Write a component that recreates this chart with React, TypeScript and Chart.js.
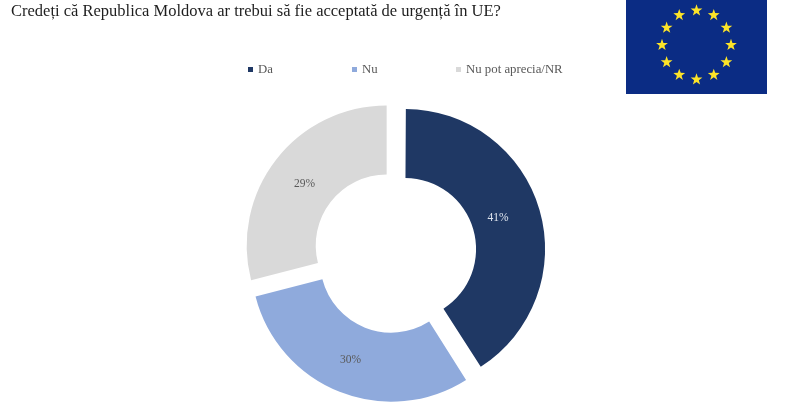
import React, { useEffect, useRef } from "react";
import { Chart, registerables } from "chart.js";

Chart.register(...registerables);

const TITLE = "Credeți că Republica Moldova ar trebui să fie acceptată de urgență în UE?";
const categories = ["Da", "Nu", "Nu pot aprecia/NR"];
const values = [41, 30, 29];
const sliceColors = ["#1f3864", "#8faadc", "#d9d9d9"];
const labelColors = ["#dfe5ee", "#595959", "#595959"];
const legendLefts = [248, 352, 456];
const FONT = '"Liberation Serif", serif';
const SLICE_OFFSET = 42; // Chart.js moves a slice by a quarter of this

const starAngles = [0, 30, 60, 90, 120, 150, 180, 210, 240, 270, 300, 330];

function starPath(cx: number, cy: number, R: number) {
  const pts: string[] = [];
  for (let i = 0; i < 10; i++) {
    const r = i % 2 === 0 ? R : R * 0.4;
    const a = (Math.PI / 5) * i - Math.PI / 2;
    pts.push(`${(cx + r * Math.cos(a)).toFixed(2)},${(cy + r * Math.sin(a)).toFixed(2)}`);
  }
  return pts.join(" ");
}

// Chart.js grows an exploded slice's radii a little; undo it so that all slices keep one radius.
const keepRadii = {
  id: "keepRadii",
  afterDatasetsUpdate(chart: any) {
    chart.getDatasetMeta(0).data.forEach((arc: any) => {
      const fix = 1 - Math.sin(Math.min(Math.PI, arc.circumference || 0));
      const grow = (SLICE_OFFSET / 4) * fix;
      arc.outerRadius -= grow;
      arc.innerRadius -= grow;
    });
  },
};

const sliceLabels = {
  id: "sliceLabels",
  afterDatasetsDraw(chart: any) {
    const { ctx } = chart;
    const meta = chart.getDatasetMeta(0);
    const nudges = [
      [6, -6],
      [-2, 1],
      [1, 3],
    ];
    ctx.save();
    ctx.font = `11.5px ${FONT}`;
    ctx.textAlign = "center";
    ctx.textBaseline = "middle";
    meta.data.forEach((arc: any, i: number) => {
      const mid = (arc.startAngle + arc.endAngle) / 2;
      const inward = i === 0 ? 10 : 0;
      const r = (arc.innerRadius + arc.outerRadius) / 2 + SLICE_OFFSET / 4 - inward;
      ctx.fillStyle = labelColors[i];
      ctx.fillText(
        `${values[i]}%`,
        arc.x + Math.cos(mid) * r + nudges[i][0],
        arc.y + Math.sin(mid) * r + nudges[i][1],
      );
    });
    ctx.restore();
  },
};

export default function App() {
  const ref = useRef<HTMLCanvasElement>(null);
  useEffect(() => {
    document.body.style.margin = "0";
    const chart = new Chart(ref.current!, {
      type: "doughnut",
      data: {
        labels: categories,
        datasets: [
          {
            data: values,
            backgroundColor: sliceColors,
            borderWidth: 0,
            offset: SLICE_OFFSET,
          },
        ],
      },
      options: {
        responsive: false,
        animation: false,
        radius: 140,
        cutout: "50.7%",
        layout: { padding: { left: 11, right: 21, top: 0, bottom: 21 } },
        plugins: {
          legend: { display: false },
          tooltip: { enabled: false },
          title: {
            display: true,
            text: TITLE,
            align: "start",
            color: "#1e1e1e",
            font: { family: FONT, size: 16.5, weight: "normal" },
            padding: { top: 2, bottom: 83 },
          },
        },
      },
      plugins: [keepRadii, sliceLabels],
    });
    return () => chart.destroy();
  }, []);

  return (
    <div style={{ position: "relative", width: 800, height: 420, overflow: "hidden", background: "#fff" }}>
      <canvas ref={ref} width={800} height={420} style={{ display: "block" }} />
      {categories.map((c, i) => (
        <div
          key={c}
          style={{
            position: "absolute",
            left: legendLefts[i],
            top: 62,
            height: 16,
            lineHeight: "16px",
            font: `12.8px ${FONT}`,
            color: "#595959",
            whiteSpace: "nowrap",
          }}
        >
          <span
            style={{
              display: "inline-block",
              width: 5,
              height: 5,
              marginRight: 5,
              verticalAlign: 1,
              background: sliceColors[i],
            }}
          />
          {c}
        </div>
      ))}
      <svg style={{ position: "absolute", left: 626, top: 0 }} width={141} height={94} viewBox="0 0 141 94">
        <rect width={141} height={94} fill="#0b2c84" />
        {starAngles.map((deg) => {
          const a = (deg * Math.PI) / 180;
          return (
            <polygon
              key={deg}
              points={starPath(70.5 + 34.5 * Math.sin(a), 45 - 34.5 * Math.cos(a), 6.2)}
              fill="#fde428"
            />
          );
        })}
      </svg>
    </div>
  );
}
